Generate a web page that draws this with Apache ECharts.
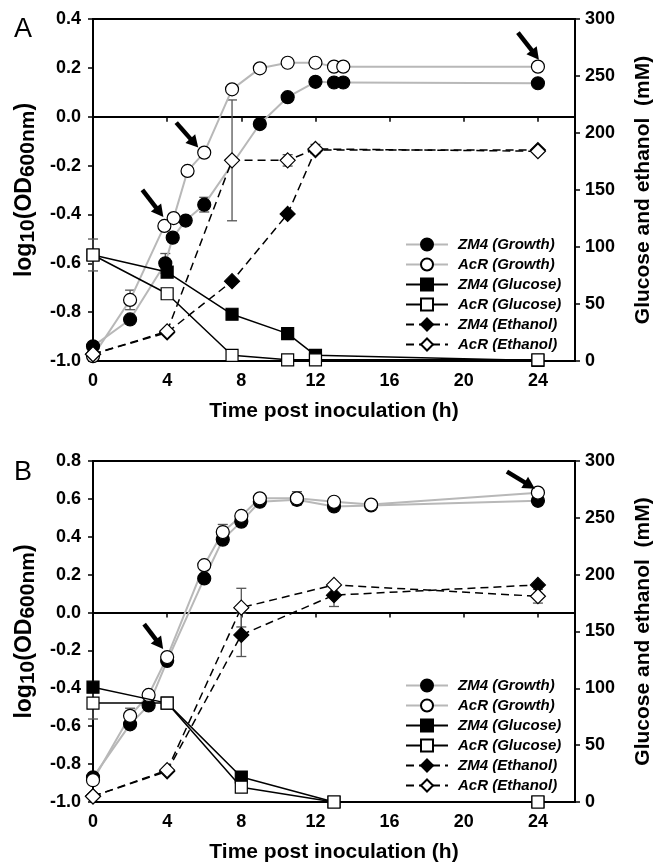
<!DOCTYPE html>
<html><head><meta charset="utf-8">
<script src="https://cdn.jsdelivr.net/npm/echarts@6/dist/echarts.min.js"></script>
<style>html,body{margin:0;padding:0;background:#fff}#c{width:653px;height:867px}</style>
</head><body><div id="c"></div><script>
// ---------- DATA ----------
const seriesNames = ['ZM4 (Growth)','AcR (Growth)','ZM4 (Glucose)','AcR (Glucose)','ZM4 (Ethanol)','AcR (Ethanol)'];
const xTicks = [0,4,8,12,16,20,24];

// Panel A
const tA_growthZM4 = [0, 2, 3.9, 4.3, 5, 6, 9, 10.5, 12, 13, 13.5, 24];
const yA_growthZM4 = [-0.94, -0.83, -0.60, -0.495, -0.425, -0.36, -0.03, 0.08, 0.143, 0.14, 0.14, 0.137];
const tA_growthAcR = [0, 2, 3.85, 4.35, 5.1, 6, 7.5, 9, 10.5, 12, 13, 13.5, 24];
const yA_growthAcR = [-0.98, -0.75, -0.447, -0.415, -0.222, -0.147, 0.112, 0.198, 0.221, 0.221, 0.205, 0.205, 0.205];
const tA_glucose = [0, 4, 7.5, 10.5, 12, 24];
const yA_glucoseZM4 = [93, 78, 41, 24, 5, 0.5];
const yA_glucoseAcR = [93, 59, 5, 1, 1, 1];
const tA_ethanol = [0, 4, 7.5, 10.5, 12, 24];
const yA_ethanolZM4 = [6, 25, 70, 129, 185, 185];
const yA_ethanolAcR = [6, 26, 176, 176, 186, 184];
const errA_left = [[2, -0.75, 0.04], [3.9, -0.60, 0.04], [6, -0.36, 0.03]];
const errA_right = [[0, 93, 14], [7.5, 176, 53], [10.5, 176, 5], [12, 186, 4]];
const arrowsA = [[3.85, -0.447], [6, -0.147], [24, 0.205]];

// Panel B
const tB_growth = [0, 2, 3, 4, 6, 7, 8, 9, 11, 13, 15, 24];
const yB_growthZM4 = [-0.87, -0.59, -0.49, -0.255, 0.18, 0.385, 0.48, 0.585, 0.595, 0.56, 0.565, 0.59];
const yB_growthAcR = [-0.885, -0.545, -0.435, -0.235, 0.25, 0.425, 0.51, 0.603, 0.603, 0.585, 0.57, 0.633];
const tB_glucose = [0, 4, 8, 13, 24];
const yB_glucoseZM4 = [101, 87, 22, 0, 0];
const yB_glucoseAcR = [87, 87, 13, 0, 0];
const tB_ethanol = [0, 4, 8, 13, 24];
const yB_ethanolZM4 = [5, 27, 147, 182, 191];
const yB_ethanolAcR = [5, 28, 171, 191, 181];
const errB_left = [[2, -0.545, 0.04], [7, 0.425, 0.04], [11, 0.603, 0.035]];
const errB_right = [[0, 87, 14], [8, 147, 19], [8, 171, 17], [13, 182, 10], [24, 181, 6]];
const arrowsB = [[4, -0.235], [24, 0.633]];

// ---------- STYLE ----------
const FONT = "'Liberation Sans', Arial, Helvetica, sans-serif";
const GRAY = '#b8b8b8';
const arrowGeomA = [{tip:[-1,-9], tail:[-22,-36]}, {tip:[-6,-5], tail:[-28,-30]}, {tip:[1,-7], tail:[-20,-34]}];
const arrowGeomB = [{tip:[-4,-8], tail:[-23,-33]}, {tip:[-3,-4], tail:[-31,-21]}];

const zip = (xs, ys) => xs.map((x, i) => [x, ys[i]]);

function xAxisCfg(gi) {
  return {
    type: 'value', gridIndex: gi, min: 0, max: 26, interval: 4,
    name: 'Time post inoculation (h)', nameLocation: 'middle', nameGap: 40,
    nameTextStyle: {fontSize: 21, fontWeight: 'bold', color: '#000', fontFamily: FONT},
    axisLine: {lineStyle: {color: '#000', width: 2}},
    axisTick: {length: 5, lineStyle: {color: '#000', width: 1.5}},
    axisLabel: {fontSize: 18, fontWeight: 'bold', color: '#000', fontFamily: FONT, margin: 11,
      formatter: v => xTicks.indexOf(v) >= 0 ? String(v) : ''},
    splitLine: {show: false}
  };
}
function yLeftCfg(gi, max) {
  return {
    type: 'value', gridIndex: gi, min: -1, max: max, interval: 0.2, position: 'left',
    name: '{n|log}{s|10}{n|(OD}{s|600nm}{n|)}', nameLocation: 'middle', nameRotate: 90, nameGap: 53,
    nameTextStyle: {color: '#000', rich: {
      n: {fontSize: 23, fontWeight: 'bold', color: '#000', fontFamily: FONT},
      s: {fontSize: 21, fontWeight: 'bold', color: '#000', fontFamily: FONT, padding: [8, 0, 0, 0]}
    }},
    axisLine: {show: true, lineStyle: {color: '#000', width: 2}},
    axisTick: {show: true, length: 5, lineStyle: {color: '#000', width: 1.5}},
    axisLabel: {fontSize: 18, fontWeight: 'bold', color: '#000', fontFamily: FONT, margin: 12,
      formatter: v => (Math.abs(v) < 1e-9 ? 0 : v).toFixed(1)},
    splitLine: {show: false}
  };
}
function yRightCfg(gi) {
  return {
    type: 'value', gridIndex: gi, min: 0, max: 300, interval: 50, position: 'right',
    name: 'Glucose and ethanol  (mM)', nameLocation: 'middle', nameRotate: 90, nameGap: 58,
    nameTextStyle: {fontSize: 21, fontWeight: 'bold', color: '#000', fontFamily: FONT},
    axisLine: {show: true, lineStyle: {color: '#000', width: 2}},
    axisTick: {show: true, length: 5, lineStyle: {color: '#000', width: 1.5}},
    axisLabel: {fontSize: 18, fontWeight: 'bold', color: '#000', fontFamily: FONT, margin: 10},
    splitLine: {show: false}
  };
}

const styles = {
  'ZM4 (Growth)':  {symbol: 'circle', size: 13, fill: '#000', line: GRAY, width: 2, type: 'solid'},
  'AcR (Growth)':  {symbol: 'circle', size: 13, fill: '#fff', line: GRAY, width: 2, type: 'solid'},
  'ZM4 (Glucose)': {symbol: 'rect', size: 12, fill: '#000', line: '#000', width: 1.5, type: 'solid'},
  'AcR (Glucose)': {symbol: 'rect', size: 12, fill: '#fff', line: '#000', width: 1.5, type: 'solid'},
  'ZM4 (Ethanol)': {symbol: 'diamond', size: 15, fill: '#000', line: '#000', width: 1.5, type: [8, 5]},
  'AcR (Ethanol)': {symbol: 'diamond', size: 15, fill: '#fff', line: '#000', width: 1.5, type: [8, 5]}
};

function lineSeries(name, data, gi, yi, z) {
  const s = styles[name];
  return {
    type: 'line', name, data, xAxisIndex: gi, yAxisIndex: yi, z: z,
    symbol: s.symbol, symbolSize: s.size, showAllSymbol: true,
    itemStyle: {color: s.fill, borderColor: '#000', borderWidth: 1.2},
    lineStyle: {color: s.line, width: s.width, type: s.type},
    emphasis: {disabled: true}, clip: false
  };
}

function errSeries(data, gi, yi) {
  return {
    type: 'custom', xAxisIndex: gi, yAxisIndex: yi, z: 1, silent: true, data,
    renderItem: (p, api) => {
      const x = api.value(0), y = api.value(1), e = api.value(2);
      const t = api.coord([x, y + e]), b = api.coord([x, y - e]);
      const hw = 5, st = {stroke: '#555', lineWidth: 1.3};
      return {type: 'group', children: [
        {type: 'line', shape: {x1: t[0], y1: t[1], x2: b[0], y2: b[1]}, style: st},
        {type: 'line', shape: {x1: t[0] - hw, y1: t[1], x2: t[0] + hw, y2: t[1]}, style: st},
        {type: 'line', shape: {x1: b[0] - hw, y1: b[1], x2: b[0] + hw, y2: b[1]}, style: st}
      ]};
    }
  };
}

function arrowSeries(data, geom, gi, yi) {
  return {
    type: 'custom', xAxisIndex: gi, yAxisIndex: yi, z: 10, silent: true, data,
    renderItem: (p, api) => {
      const c = api.coord([api.value(0), api.value(1)]);
      const g = geom[p.dataIndex];
      const tip = [c[0] + g.tip[0], c[1] + g.tip[1]];
      const tail = [c[0] + g.tail[0], c[1] + g.tail[1]];
      const dx = tip[0] - tail[0], dy = tip[1] - tail[1];
      const L = Math.hypot(dx, dy), ux = dx / L, uy = dy / L;
      const hl = 12, hw = 6.5;
      const base = [tip[0] - ux * hl, tip[1] - uy * hl];
      const px = -uy, py = ux;
      return {type: 'group', children: [
        {type: 'line', shape: {x1: tail[0], y1: tail[1], x2: base[0] + ux * 2, y2: base[1] + uy * 2},
          style: {stroke: '#000', lineWidth: 4.5}},
        {type: 'polygon', shape: {points: [tip, [base[0] + px * hw, base[1] + py * hw], [base[0] - px * hw, base[1] - py * hw]]},
          style: {fill: '#000'}}
      ]};
    }
  };
}

function legendCfg(top) {
  return {
    orient: 'vertical', left: 400, top: top, itemWidth: 42, itemHeight: 15, itemGap: 5,
    data: seriesNames, selectedMode: false,
    textStyle: {fontSize: 15, fontWeight: 'bold', fontStyle: 'italic', color: '#000', fontFamily: FONT, padding: [0, 0, 0, 5]}
  };
}

const option = {
  animation: false,
  backgroundColor: '#fff',
  grid: [
    {left: 93, right: 78, top: 19, height: 342, show: true, borderColor: '#000', borderWidth: 2, outerBoundsMode: 'none', containLabel: false},
    {left: 93, right: 78, top: 461, height: 341, show: true, borderColor: '#000', borderWidth: 2, outerBoundsMode: 'none', containLabel: false}
  ],
  xAxis: [xAxisCfg(0), xAxisCfg(1)],
  yAxis: [yLeftCfg(0, 0.4), yRightCfg(0), yLeftCfg(1, 0.8), yRightCfg(1)],
  legend: [legendCfg(232), legendCfg(673)],
  graphic: [
    {type: 'text', left: 14, top: 16, style: {text: 'A', fontSize: 27, fontFamily: FONT, fill: '#000'}},
    {type: 'text', left: 14, top: 459, style: {text: 'B', fontSize: 27, fontFamily: FONT, fill: '#000'}}
  ],
  series: [
    errSeries(errA_left, 0, 0), errSeries(errA_right, 0, 1),
    errSeries(errB_left, 1, 2), errSeries(errB_right, 1, 3),
    lineSeries('ZM4 (Growth)', zip(tA_growthZM4, yA_growthZM4), 0, 0, 3),
    lineSeries('AcR (Growth)', zip(tA_growthAcR, yA_growthAcR), 0, 0, 3),
    lineSeries('ZM4 (Glucose)', zip(tA_glucose, yA_glucoseZM4), 0, 1, 4),
    lineSeries('AcR (Glucose)', zip(tA_glucose, yA_glucoseAcR), 0, 1, 4),
    lineSeries('ZM4 (Ethanol)', zip(tA_ethanol, yA_ethanolZM4), 0, 1, 5),
    lineSeries('AcR (Ethanol)', zip(tA_ethanol, yA_ethanolAcR), 0, 1, 5),
    lineSeries('ZM4 (Growth)', zip(tB_growth, yB_growthZM4), 1, 2, 3),
    lineSeries('AcR (Growth)', zip(tB_growth, yB_growthAcR), 1, 2, 3),
    lineSeries('ZM4 (Glucose)', zip(tB_glucose, yB_glucoseZM4), 1, 3, 4),
    lineSeries('AcR (Glucose)', zip(tB_glucose, yB_glucoseAcR), 1, 3, 4),
    lineSeries('ZM4 (Ethanol)', zip(tB_ethanol, yB_ethanolZM4), 1, 3, 5),
    lineSeries('AcR (Ethanol)', zip(tB_ethanol, yB_ethanolAcR), 1, 3, 5),
    arrowSeries(arrowsA, arrowGeomA, 0, 0),
    arrowSeries(arrowsB, arrowGeomB, 1, 2)
  ]
};

const chart = echarts.init(document.getElementById('c'), null, {renderer: 'canvas'});
chart.setOption(option);
</script></body></html>
